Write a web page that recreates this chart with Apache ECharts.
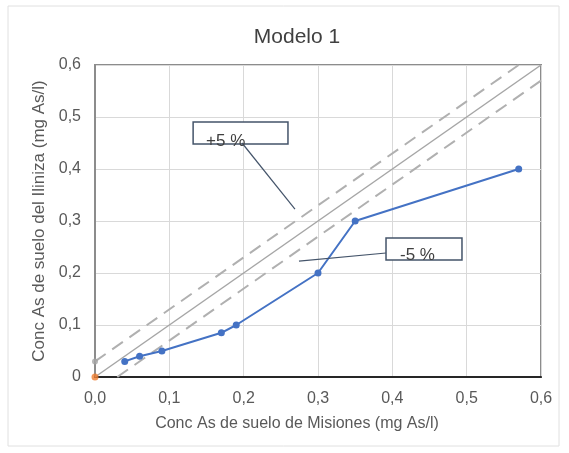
<!DOCTYPE html>
<html><head><meta charset="utf-8">
<script src="https://cdn.jsdelivr.net/npm/echarts@6/dist/echarts.min.js"></script>
<style>html,body{margin:0;padding:0;background:#fff}#c{width:569px;height:453px}</style>
</head><body><div id="c"></div>
<script>
const xTicks = [0, 0.1, 0.2, 0.3, 0.4, 0.5, 0.6];
const yTicks = [0, 0.1, 0.2, 0.3, 0.4, 0.5, 0.6];
const misiones = [0.04, 0.06, 0.09, 0.17, 0.19, 0.30, 0.35, 0.57];
const iliniza  = [0.03, 0.04, 0.05, 0.085, 0.10, 0.20, 0.30, 0.40];
const originPoint = [[0, 0]];
const identityLine = [[0, 0], [0.6, 0.6]];
const plusLine = [[0, 0.03], [0.57, 0.6]];
const minusLine = [[0.03, 0], [0.6, 0.57]];
const plusLabel = { text: '+5 %', box: [[0.132, 0.4904], [0.2596, 0.448]], leader: [[0.1978, 0.45], [0.269, 0.323]] };
const minusLabel = { text: '-5 %', box: [[0.3915, 0.2673], [0.4937, 0.225]], leader: [[0.3915, 0.2385], [0.2744, 0.223]] };

const chart = echarts.init(document.getElementById('c'));
const FONT = 'Liberation Sans, Arial, sans-serif';
const fmt = v => v.toFixed(1).replace('.', ',');
const fmtY = v => v === 0 ? '0' : v.toFixed(1).replace('.', ',');
const grey = '#a6a6a6';
chart.setOption({
  animation: false,
  textStyle: { fontFamily: FONT },
  title: { text: 'Modelo 1', left: 292, top: 22, textAlign: 'center',
    textStyle: { fontSize: 21, fontWeight: 'normal', color: '#404040', fontFamily: FONT } },
  grid: { left: 95, right: 28, top: 65, bottom: 76, show: true, borderColor: '#8c8c8c', borderWidth: 2 },
  xAxis: { type: 'value', min: 0, max: 0.6, interval: 0.1,
    name: 'Conc As de suelo de Misiones (mg As/l)', nameLocation: 'middle', nameGap: 39,
    nameTextStyle: { fontSize: 16, color: '#595959', padding: [0, 42, 0, 0] },
    axisLine: { show: true, onZero: false, lineStyle: { color: '#262626', width: 2 } },
    axisTick: { show: false },
    axisLabel: { formatter: fmt, fontSize: 16, color: '#595959', margin: 14 },
    splitLine: { lineStyle: { color: '#d9d9d9', width: 1 } } },
  yAxis: { type: 'value', min: 0, max: 0.6, interval: 0.1,
    name: 'Conc As de suelo del Iliniza (mg As/l)', nameLocation: 'middle', nameGap: 39,
    nameTextStyle: { fontSize: 17, color: '#595959' },
    axisLine: { show: true, lineStyle: { color: '#8c8c8c', width: 2 } },
    axisTick: { show: false },
    axisLabel: { formatter: fmtY, fontSize: 16, color: '#595959', margin: 14 },
    splitLine: { lineStyle: { color: '#d9d9d9', width: 1 } } },
  series: [
    { type: 'line', data: identityLine, symbol: 'none', lineStyle: { color: grey, width: 1.5 }, z: 2 },
    { type: 'line', data: plusLine, symbol: 'none', lineStyle: { color: '#b0b0b0', width: 2, type: [13, 8] }, z: 2 },
    { type: 'line', data: minusLine, symbol: 'none', lineStyle: { color: '#b0b0b0', width: 2, type: [13, 8] }, z: 2 },
    { type: 'scatter', data: [plusLine[0]], symbolSize: 6, itemStyle: { color: '#a5a5a5' }, z: 3 },
    { type: 'line', data: misiones.map((x, i) => [x, iliniza[i]]), symbol: 'circle', symbolSize: 7,
      lineStyle: { color: '#4472c4', width: 2 }, itemStyle: { color: '#4472c4' }, z: 4 },
    { type: 'scatter', data: originPoint, symbolSize: 7, itemStyle: { color: '#ed7d31' }, z: 5 }
  ]
});

function annot(a, textDx, textOffsetY) {
  const p1 = chart.convertToPixel({ gridIndex: 0 }, a.box[0]);
  const p2 = chart.convertToPixel({ gridIndex: 0 }, a.box[1]);
  const l1 = chart.convertToPixel({ gridIndex: 0 }, a.leader[0]);
  const l2 = chart.convertToPixel({ gridIndex: 0 }, a.leader[1]);
  return [
    { type: 'rect', shape: { x: p1[0], y: p1[1], width: p2[0] - p1[0], height: p2[1] - p1[1] },
      style: { fill: '#fff', stroke: '#44546a', lineWidth: 1.5 }, z: 10 },
    { type: 'text', x: p1[0] + textDx, y: p2[1] + textOffsetY,
      style: { text: a.text, fontSize: 17, fill: '#404040', textVerticalAlign: 'middle', fontFamily: FONT }, z: 11 },
    { type: 'line', shape: { x1: l1[0], y1: l1[1], x2: l2[0], y2: l2[1] },
      style: { stroke: '#44546a', lineWidth: 1.2 }, z: 10 }
  ];
}
chart.setOption({ graphic: [
  { type: 'rect', shape: { x: 8, y: 6, width: 551, height: 440 }, style: { fill: 'none', stroke: '#e0e0e0', lineWidth: 1 }, z: -1 },
  ...annot(plusLabel, 13, -3),
  ...annot(minusLabel, 14, -5)
] });
</script></body></html>
